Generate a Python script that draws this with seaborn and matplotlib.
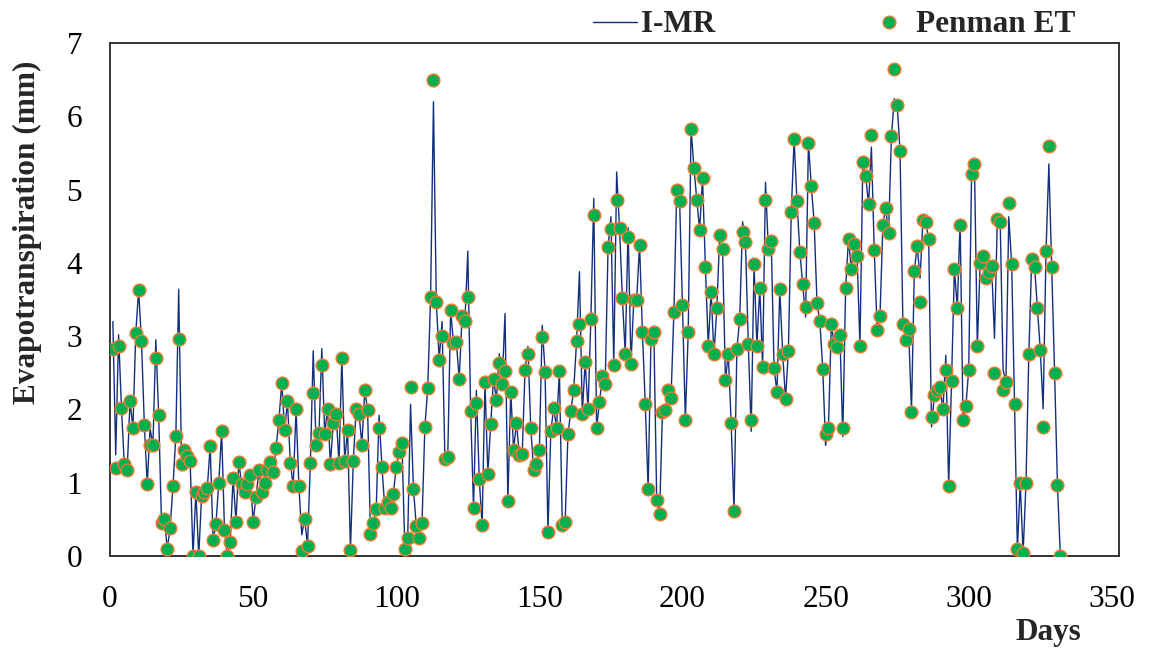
import numpy as np
import pandas as pd
import matplotlib
matplotlib.use("Agg")
import matplotlib.pyplot as plt
import seaborn as sns
from matplotlib.lines import Line2D

# Penman ET (mm), one value per day
penman_et = [
    2.83, 1.20, 2.86, 2.02, 1.25, 1.17, 2.12, 1.74, 3.04, 3.63,
    2.93, 1.79, 0.98, 1.51, 1.51, 2.70, 1.93, 0.45, 0.50, 0.10,
    0.38, 0.95, 1.64, 2.96, 1.26, 1.45, 1.37, 1.30, 0.00,
    0.87, 0.00, 0.82, 0.87, 0.93, 1.50, 0.22, 0.43, 1.00, 1.70,
    0.35, 0.00, 0.19, 1.07, 0.47, 1.28, 0.98, 0.87, 0.98, 1.10,
    0.47, 0.80, 1.17, 0.88, 1.00, 1.17, 1.28, 1.15, 1.47, 1.85,
    2.36, 1.72, 2.11, 1.27, 0.95, 2.01, 0.95, 0.07, 0.51, 0.14,
    1.27, 2.22, 1.51, 1.68, 2.60, 1.67, 2.01, 1.26, 1.81, 1.94,
    1.27, 2.70, 1.30, 1.72, 0.08, 1.30, 2.01, 1.94, 1.52, 2.26,
    1.99, 0.30, 0.45, 0.64, 1.74, 1.22, 0.66, 0.74, 0.66, 0.85,
    1.22, 1.42, 1.54, 0.09, 0.24, 2.31, 0.92, 0.41, 0.24, 0.45,
    1.76, 2.29, 3.53, 6.49, 3.47, 2.68, 3.00, 1.33, 1.35,
    3.35, 2.91, 2.92, 2.41, 3.27, 3.21, 3.53, 1.98, 0.66, 2.09,
    1.05, 0.42, 2.38, 1.12, 1.80, 2.42, 2.13, 2.64, 2.35, 2.52,
    0.75, 2.24, 1.45, 1.82, 1.38, 1.39, 2.54, 2.75, 1.75, 1.17,
    1.26, 1.45, 2.99, 2.51, 0.33, 1.70, 2.02, 1.75, 2.53, 0.42,
    0.46, 1.67, 1.98, 2.27, 2.93, 3.16, 1.94, 2.65, 2.00, 3.24,
    4.65, 1.75, 2.10, 2.45, 2.35, 4.22, 4.46, 2.60, 4.86, 4.48,
    3.52, 2.76, 4.35, 2.62, 3.50, 3.50, 4.25, 3.06, 2.07, 0.91,
    2.96, 3.05, 0.76, 0.57, 1.97, 1.99, 2.27, 2.16, 3.33, 5.00,
    4.84, 3.42, 1.85, 3.05, 5.83, 5.30, 4.86, 4.45, 5.16, 3.95,
    2.87, 3.60, 2.75, 3.38, 4.38, 4.19, 2.40, 2.76, 1.82, 0.61,
    2.82, 3.24, 4.42, 4.28, 2.89, 1.86, 3.98, 2.87, 3.66, 2.58,
    4.86, 4.19, 4.30, 2.56, 2.24, 3.64, 2.76, 2.14, 2.80,
    4.69, 5.69, 4.84, 4.15, 3.71, 3.40, 5.64, 5.05, 4.55, 3.45,
    3.20, 2.55, 1.67, 1.75, 3.16, 2.89, 2.85, 3.02, 1.74, 3.66,
    4.33, 3.91, 4.26, 4.10, 2.86, 5.37, 5.18, 4.80, 5.74, 4.17,
    3.09, 3.27, 4.51, 4.75, 4.41, 5.73, 6.65, 6.16, 5.53, 3.17,
    2.95, 3.10, 1.97, 3.89, 4.23, 3.47, 4.58, 4.56, 4.32, 1.89,
    2.20, 2.26, 2.30, 2.00, 2.54, 0.95, 2.39, 3.92, 3.38,
    4.51, 1.85, 2.05, 2.54, 5.21, 5.35, 2.86, 4.00, 4.09, 3.79,
    3.88, 3.96, 2.50, 4.60, 4.56, 2.27, 2.38, 4.81, 3.99, 2.08,
    0.09, 0.99, 0.04, 0.99, 2.76, 4.05, 3.95, 3.38, 2.81, 1.76,
    4.16, 5.59, 3.94, 2.50, 0.97, 0.00,
]

# I-MR model: follows Penman ET except on the days where the line visibly departs
imr_days = [1, 2, 3, 14, 16, 24, 67, 71, 74, 94, 105, 113, 116, 125, 128,
            136, 138, 146, 151, 164, 169, 175, 177, 181, 221, 224, 229, 243,
            250, 256, 266, 274, 283, 287, 292, 297, 309, 312, 314, 326, 328]
imr_vals = [3.20, 1.38, 3.02, 1.74, 2.95, 3.64, 0.29, 2.80, 2.83, 1.92, 2.07,
            6.20, 3.20, 4.16, 2.26, 2.76, 3.31, 2.86, 3.15, 3.88, 4.88, 4.63,
            5.24, 4.48, 4.56, 1.70, 5.10, 3.26, 1.51, 1.63, 5.58, 6.24, 3.79,
            1.76, 2.74, 4.58, 2.97, 2.54, 4.63, 2.01, 5.35]

days = list(range(1, len(penman_et) + 1))
imr = list(penman_et)
for d, v in zip(imr_days, imr_vals):
    imr[d - 1] = v

x_ticks = [0, 50, 100, 150, 200, 250, 300, 350]
y_ticks = [0, 1, 2, 3, 4, 5, 6, 7]

df = pd.DataFrame({"Days": days, "I-MR": imr, "Penman ET": penman_et})

sns.set_theme(style="white")
plt.rcParams["font.family"] = ["Liberation Serif", "DejaVu Serif"]

W, H = 1149, 648
fig = plt.figure(figsize=(W / 100, H / 100), dpi=100)
ax = fig.add_axes([110 / W, 1 - 556 / H, (1119 - 110) / W, (556 - 43) / H])

line_color = "#14307A"
dot_face = "#00B050"
dot_edge = "#ED7D31"

sns.lineplot(data=df, x="Days", y="I-MR", ax=ax, color=line_color,
             linewidth=1.0, zorder=2)
sns.scatterplot(data=df, x="Days", y="Penman ET", ax=ax, color=dot_face,
                edgecolor=dot_edge, linewidth=1.0, s=84, zorder=3)

ax.set_xlim(0, 352.5)
ax.set_ylim(0, 7)
ax.set_xticks(x_ticks)
ax.set_yticks(y_ticks)
ax.set_xticklabels([str(t) for t in x_ticks])
ax.set_yticklabels([str(t) for t in y_ticks])
ax.tick_params(axis="both", length=0, labelsize=22.5, colors="black")
ax.tick_params(axis="x", pad=21)
ax.tick_params(axis="y", pad=20)

for name, sp in ax.spines.items():
    sp.set_visible(True)
    sp.set_color("#333333")
    sp.set_linewidth(1.4)

ax.set_xlabel("Days", fontsize=22.5, fontweight="bold")
ax.set_ylabel("Evapotranspiration (mm)", fontsize=22.5, fontweight="bold")
ax.xaxis.set_label_coords(0.93, -0.12)
ax.yaxis.set_label_coords(-0.067, 0.63)

handles = [
    Line2D([0], [0], color=line_color, lw=1.0),
    Line2D([0], [0], marker="o", ls="none", markerfacecolor=dot_face,
           markeredgecolor=dot_edge, markeredgewidth=1.0, markersize=9.2),
]
fig.legend(handles, ["I-MR", "Penman ET"], loc="center",
           bbox_to_anchor=(834 / W, 1 - 25 / H), ncol=2, frameon=False,
           prop={"size": 22.5, "weight": "bold"}, handlelength=1.4,
           handletextpad=0.15, columnspacing=4.85, borderaxespad=0)

fig.savefig("out.png", dpi=100)
